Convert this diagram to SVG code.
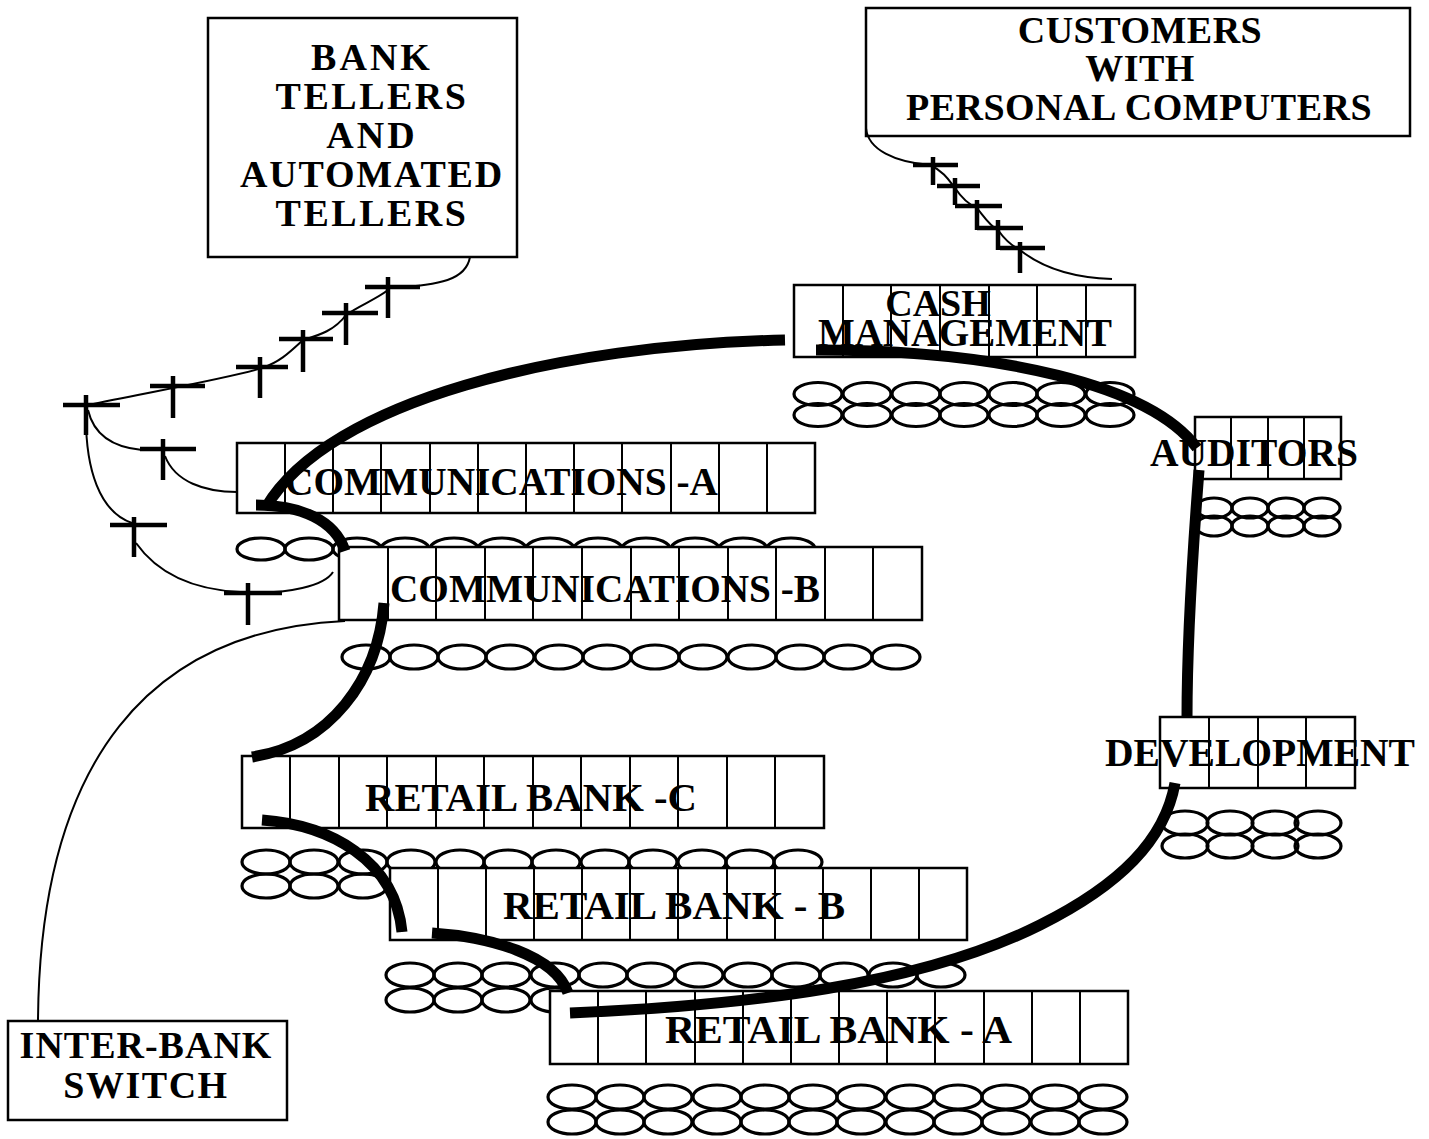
<svg xmlns="http://www.w3.org/2000/svg" width="1429" height="1139" viewBox="0 0 1429 1139">
<style>
.box{fill:#fff;stroke:#000;stroke-width:2.5}
.cell{stroke:#000;stroke-width:2}
.ell{fill:none;stroke:#000;stroke-width:3.2}
.t{font-family:"Liberation Serif","Times New Roman",serif;font-weight:bold;font-size:38px;fill:#000}
.n{font-size:41px}
.c{text-anchor:middle}
.thick{fill:none;stroke:#000;stroke-width:11}
.thin{fill:none;stroke:#000;stroke-width:2}
.term{stroke:#000;stroke-width:4.5;fill:none}
</style>
<rect width="1429" height="1139" fill="#fff"/>

<g id="bank-tellers">
<rect class="box" x="208" y="18" width="309" height="239"/>
<text class="t c" x="372" y="70" letter-spacing="3">BANK</text>
<text class="t c" x="372" y="109" letter-spacing="2.5">TELLERS</text>
<text class="t c" x="372" y="148" letter-spacing="3">AND</text>
<text class="t c" x="372" y="187" letter-spacing="1.8">AUTOMATED</text>
<text class="t c" x="372" y="226" letter-spacing="2.5">TELLERS</text>
</g>

<g id="customers">
<rect class="box" x="866" y="8" width="544" height="128"/>
<text class="t c" x="1140" y="43" letter-spacing="0.5">CUSTOMERS</text>
<text class="t c" x="1140" y="81" letter-spacing="0.5">WITH</text>
<text class="t c" x="1139" y="120" letter-spacing="0.5">PERSONAL COMPUTERS</text>
</g>

<g id="inter-bank-switch">
<rect class="box" x="8" y="1021" width="279" height="99"/>
<text class="t c" x="146" y="1058" font-size="40" letter-spacing="1">INTER-BANK</text>
<text class="t c" x="146" y="1098" font-size="40" letter-spacing="1.5">SWITCH</text>
</g>

<g id="tellers-terminals">
<path class="term" d="M365,287H420M388,277V318"/>
<path class="term" d="M322,313H378M346,303V345"/>
<path class="term" d="M279,339H333M303,330V372"/>
<path class="term" d="M236,367H288M260,357V398"/>
<path class="term" d="M150,386H205M173,376V418"/>
<path class="term" d="M63,405H120M86,395V435"/>
<path class="term" d="M140,449H196M163,439V480"/>
<path class="term" d="M110,525H167M134,517V557"/>
<path class="term" d="M224,593H282M248,583V625"/>
</g>

<g id="customer-terminals">
<path class="term" d="M913,165H958M933,157V185"/>
<path class="term" d="M937,186H980M955,178V205"/>
<path class="term" d="M955,206H1002M977,200V230"/>
<path class="term" d="M977,228H1023M998,220V250"/>
<path class="term" d="M1000,248H1045M1020,242V273"/>
</g>

<g id="cash-management">
<rect class="box" x="794" y="285" width="341" height="72"/>
<path class="cell" d="M843,285V357M891,285V357M940,285V357M989,285V357M1037,285V357M1086,285V357"/>
<text class="t c" x="938" y="316" font-size="36">CASH</text>
<text class="t n" x="818" y="346" textLength="294" lengthAdjust="spacingAndGlyphs">MANAGEMENT</text>
<g class="ell">
<ellipse cx="818" cy="394" rx="24" ry="11.5"/><ellipse cx="867" cy="394" rx="24" ry="11.5"/><ellipse cx="916" cy="394" rx="24" ry="11.5"/><ellipse cx="964" cy="394" rx="24" ry="11.5"/><ellipse cx="1013" cy="394" rx="24" ry="11.5"/><ellipse cx="1061" cy="394" rx="24" ry="11.5"/><ellipse cx="1110" cy="394" rx="24" ry="11.5"/>
<ellipse cx="818" cy="415" rx="24" ry="11.5"/><ellipse cx="867" cy="415" rx="24" ry="11.5"/><ellipse cx="916" cy="415" rx="24" ry="11.5"/><ellipse cx="964" cy="415" rx="24" ry="11.5"/><ellipse cx="1013" cy="415" rx="24" ry="11.5"/><ellipse cx="1061" cy="415" rx="24" ry="11.5"/><ellipse cx="1110" cy="415" rx="24" ry="11.5"/>
</g>
</g>

<g id="auditors">
<rect class="box" x="1195" y="417" width="146" height="62"/>
<path class="cell" d="M1231,417V479M1268,417V479M1304,417V479"/>
<text class="t n" x="1150" y="466" textLength="208" lengthAdjust="spacingAndGlyphs">AUDITORS</text>
<g class="ell">
<ellipse cx="1214" cy="508" rx="18" ry="10"/><ellipse cx="1250" cy="508" rx="18" ry="10"/><ellipse cx="1286" cy="508" rx="18" ry="10"/><ellipse cx="1322" cy="508" rx="18" ry="10"/>
<ellipse cx="1214" cy="526" rx="18" ry="10"/><ellipse cx="1250" cy="526" rx="18" ry="10"/><ellipse cx="1286" cy="526" rx="18" ry="10"/><ellipse cx="1322" cy="526" rx="18" ry="10"/>
</g>
</g>

<g id="development">
<rect class="box" x="1160" y="717" width="195" height="71"/>
<path class="cell" d="M1209,717V788M1258,717V788M1306,717V788"/>
<text class="t n" x="1105" y="766" textLength="310" lengthAdjust="spacingAndGlyphs">DEVELOPMENT</text>
<g class="ell">
<ellipse cx="1185" cy="823" rx="23" ry="12"/><ellipse cx="1230" cy="823" rx="23" ry="12"/><ellipse cx="1275" cy="823" rx="23" ry="12"/><ellipse cx="1318" cy="823" rx="23" ry="12"/>
<ellipse cx="1185" cy="846" rx="23" ry="12"/><ellipse cx="1230" cy="846" rx="23" ry="12"/><ellipse cx="1275" cy="846" rx="23" ry="12"/><ellipse cx="1318" cy="846" rx="23" ry="12"/>
</g>
</g>

<g id="communications-a">
<rect class="box" x="237" y="443" width="578" height="70"/>
<path class="cell" d="M285,443V513M333,443V513M381,443V513M430,443V513M478,443V513M526,443V513M574,443V513M622,443V513M671,443V513M719,443V513M767,443V513"/>
<text class="t n" x="285" y="495" textLength="433" lengthAdjust="spacingAndGlyphs">COMMUNICATIONS -A</text>
<g class="ell">
<ellipse cx="261" cy="549" rx="24" ry="11"/><ellipse cx="309" cy="549" rx="24" ry="11"/><ellipse cx="357" cy="549" rx="24" ry="11"/><ellipse cx="405" cy="549" rx="24" ry="11"/><ellipse cx="454" cy="549" rx="24" ry="11"/><ellipse cx="502" cy="549" rx="24" ry="11"/><ellipse cx="550" cy="549" rx="24" ry="11"/><ellipse cx="598" cy="549" rx="24" ry="11"/><ellipse cx="646" cy="549" rx="24" ry="11"/><ellipse cx="695" cy="549" rx="24" ry="11"/><ellipse cx="743" cy="549" rx="24" ry="11"/><ellipse cx="791" cy="549" rx="24" ry="11"/>
</g>
</g>

<g id="communications-b">
<rect class="box" x="339" y="547" width="583" height="73"/>
<path class="cell" d="M388,547V620M436,547V620M485,547V620M533,547V620M582,547V620M631,547V620M679,547V620M728,547V620M776,547V620M825,547V620M873,547V620"/>
<text class="t n" x="390" y="602" textLength="430" lengthAdjust="spacingAndGlyphs">COMMUNICATIONS -B</text>
<g class="ell">
<ellipse cx="366" cy="657" rx="24" ry="12"/><ellipse cx="414" cy="657" rx="24" ry="12"/><ellipse cx="462" cy="657" rx="24" ry="12"/><ellipse cx="510" cy="657" rx="24" ry="12"/><ellipse cx="559" cy="657" rx="24" ry="12"/><ellipse cx="607" cy="657" rx="24" ry="12"/><ellipse cx="655" cy="657" rx="24" ry="12"/><ellipse cx="703" cy="657" rx="24" ry="12"/><ellipse cx="752" cy="657" rx="24" ry="12"/><ellipse cx="800" cy="657" rx="24" ry="12"/><ellipse cx="848" cy="657" rx="24" ry="12"/><ellipse cx="896" cy="657" rx="24" ry="12"/>
</g>
</g>

<g id="retail-bank-c">
<rect class="box" x="242" y="756" width="582" height="72"/>
<path class="cell" d="M290,756V828M339,756V828M387,756V828M436,756V828M484,756V828M533,756V828M581,756V828M630,756V828M678,756V828M727,756V828M775,756V828"/>
<text class="t n" x="365" y="811" textLength="332" lengthAdjust="spacingAndGlyphs">RETAIL BANK -C</text>
<g class="ell">
<ellipse cx="266" cy="862" rx="24" ry="12"/><ellipse cx="314" cy="862" rx="24" ry="12"/><ellipse cx="363" cy="862" rx="24" ry="12"/><ellipse cx="411" cy="862" rx="24" ry="12"/><ellipse cx="460" cy="862" rx="24" ry="12"/><ellipse cx="508" cy="862" rx="24" ry="12"/><ellipse cx="556" cy="862" rx="24" ry="12"/><ellipse cx="605" cy="862" rx="24" ry="12"/><ellipse cx="653" cy="862" rx="24" ry="12"/><ellipse cx="702" cy="862" rx="24" ry="12"/><ellipse cx="750" cy="862" rx="24" ry="12"/><ellipse cx="798" cy="862" rx="24" ry="12"/>
<ellipse cx="266" cy="886" rx="24" ry="12"/><ellipse cx="314" cy="886" rx="24" ry="12"/><ellipse cx="363" cy="886" rx="24" ry="12"/>
</g>
</g>

<g id="retail-bank-b">
<rect class="box" x="390" y="868" width="577" height="72"/>
<path class="cell" d="M438,868V940M486,868V940M534,868V940M582,868V940M630,868V940M678,868V940M727,868V940M775,868V940M823,868V940M871,868V940M919,868V940"/>
<text class="t n" x="503" y="919" textLength="342" lengthAdjust="spacingAndGlyphs">RETAIL BANK - B</text>
<g class="ell">
<ellipse cx="410" cy="975" rx="24" ry="12"/><ellipse cx="458" cy="975" rx="24" ry="12"/><ellipse cx="506" cy="975" rx="24" ry="12"/><ellipse cx="555" cy="975" rx="24" ry="12"/><ellipse cx="603" cy="975" rx="24" ry="12"/><ellipse cx="651" cy="975" rx="24" ry="12"/><ellipse cx="699" cy="975" rx="24" ry="12"/><ellipse cx="748" cy="975" rx="24" ry="12"/><ellipse cx="796" cy="975" rx="24" ry="12"/><ellipse cx="844" cy="975" rx="24" ry="12"/><ellipse cx="893" cy="975" rx="24" ry="12"/><ellipse cx="941" cy="975" rx="24" ry="12"/>
<ellipse cx="410" cy="1000" rx="24" ry="12"/><ellipse cx="458" cy="1000" rx="24" ry="12"/><ellipse cx="506" cy="1000" rx="24" ry="12"/><ellipse cx="555" cy="1000" rx="24" ry="12"/>
</g>
</g>

<g id="retail-bank-a">
<rect class="box" x="550" y="991" width="578" height="73"/>
<path class="cell" d="M598,991V1064M646,991V1064M695,991V1064M743,991V1064M791,991V1064M839,991V1064M887,991V1064M935,991V1064M984,991V1064M1032,991V1064M1080,991V1064"/>
<text class="t n" x="665" y="1043" textLength="347" lengthAdjust="spacingAndGlyphs">RETAIL BANK - A</text>
<g class="ell">
<ellipse cx="572" cy="1097" rx="24" ry="12"/><ellipse cx="620" cy="1097" rx="24" ry="12"/><ellipse cx="668" cy="1097" rx="24" ry="12"/><ellipse cx="717" cy="1097" rx="24" ry="12"/><ellipse cx="765" cy="1097" rx="24" ry="12"/><ellipse cx="813" cy="1097" rx="24" ry="12"/><ellipse cx="861" cy="1097" rx="24" ry="12"/><ellipse cx="910" cy="1097" rx="24" ry="12"/><ellipse cx="958" cy="1097" rx="24" ry="12"/><ellipse cx="1006" cy="1097" rx="24" ry="12"/><ellipse cx="1055" cy="1097" rx="24" ry="12"/><ellipse cx="1103" cy="1097" rx="24" ry="12"/>
<ellipse cx="572" cy="1122" rx="24" ry="12"/><ellipse cx="620" cy="1122" rx="24" ry="12"/><ellipse cx="668" cy="1122" rx="24" ry="12"/><ellipse cx="717" cy="1122" rx="24" ry="12"/><ellipse cx="765" cy="1122" rx="24" ry="12"/><ellipse cx="813" cy="1122" rx="24" ry="12"/><ellipse cx="861" cy="1122" rx="24" ry="12"/><ellipse cx="910" cy="1122" rx="24" ry="12"/><ellipse cx="958" cy="1122" rx="24" ry="12"/><ellipse cx="1006" cy="1122" rx="24" ry="12"/><ellipse cx="1055" cy="1122" rx="24" ry="12"/><ellipse cx="1103" cy="1122" rx="24" ry="12"/>
</g>
</g>

<g id="connectors">
<path class="thin" d="M470,257C466,280 440,285 392,288"/>
<path class="thin" d="M388,290C375,300 360,305 346,315C335,330 320,335 303,340C290,352 280,362 262,368C230,378 150,392 88,405"/>
<path class="thin" d="M88,410C95,440 120,448 142,450"/>
<path class="thin" d="M165,456C175,482 205,492 237,492"/>
<path class="thin" d="M86,412C85,470 100,512 132,523"/>
<path class="thin" d="M136,543C160,577 200,590 240,592C290,595 325,585 333,572"/>
<path class="thin" d="M866,128C868,150 895,162 930,165C945,172 950,182 955,188C963,200 970,205 977,208C985,218 990,226 998,230C1005,240 1012,246 1020,250C1045,270 1080,278 1112,279"/>
<path class="thin" d="M345,621C150,630 40,760 38,1020"/>
<path class="thick" d="M785,340C560,345 330,400 266,507"/>
<path class="thick" d="M256,505C300,505 335,520 345,551"/>
<path class="thick" d="M816,350C1000,350 1150,385 1197,448"/>
<path class="thick" d="M1199,470C1192,560 1187,650 1187,718" stroke-width="12"/>
<path class="thick" d="M1175,783C1165,840 1120,885 1040,925C920,985 750,1005 570,1013"/>
<path class="thick" d="M384,603C378,680 330,745 252,757"/>
<path class="thick" d="M262,820C330,825 395,860 402,932"/>
<path class="thick" d="M432,933C490,937 555,955 568,993"/>
</g>
</svg>
